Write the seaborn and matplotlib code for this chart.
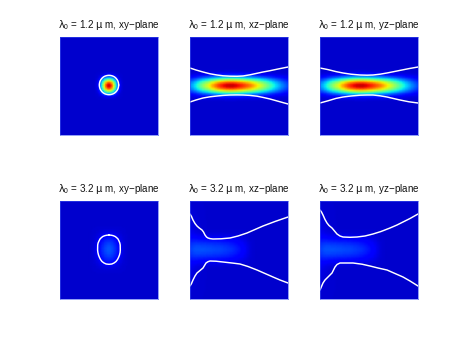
import numpy as np
import matplotlib
matplotlib.use("Agg")
import matplotlib.pyplot as plt
import seaborn as sns

sns.set_style("white")
plt.rcParams['font.family'] = ['Liberation Sans', 'DejaVu Sans']
plt.rcParams['mathtext.fontset'] = 'custom'
plt.rcParams['mathtext.rm'] = 'Liberation Sans'
plt.rcParams['mathtext.it'] = 'DejaVu Sans'

titles = [r"$\lambda_0$ = 1.2 $\mu$ m, xy−plane", r"$\lambda_0$ = 1.2 $\mu$ m, xz−plane", r"$\lambda_0$ = 1.2 $\mu$ m, yz−plane",
          r"$\lambda_0$ = 3.2 $\mu$ m, xy−plane", r"$\lambda_0$ = 3.2 $\mu$ m, xz−plane", r"$\lambda_0$ = 3.2 $\mu$ m, yz−plane"]

base_level = 0.07
amps = [0.87, 0.87, 0.87, 0.14, 0.13, 0.13]
edge_amps = [0, 0, 0, 0, 0.07, 0.07]


def mirror(half):
    """Profile read from centre outwards, mirrored about the centre; zero beyond."""
    pad = [0] * (33 - len(half))
    return pad + half[:0:-1] + half + pad


spot = mirror([1, .96, .85, .68, .49, .31, .16, .07, .025, .008])
beam_y = mirror([1, .97, .87, .72, .54, .37, .22, .12, .05, .02, .005])
beam_x = [.22, .245, .27, .305, .34, .38, .42, .46, .50, .535,
          .57, .60, .63, .675, .72, .755, .79, .825, .86, .89,
          .92, .94, .96, .975, .99, .995, 1, 1, 1, .99,
          .98, .965, .95, .935, .92, .90, .88, .86, .84, .82,
          .8, .77, .74, .71, .68, .65, .62, .59, .56, .53,
          .5, .47, .44, .41, .38, .35, .32, .295, .27, .245,
          .22, .20, .18, .16, .14]
low_xy_x = mirror([1, .98, .92, .83, .72, .6, .47, .35, .24, .15, .08, .04, .01])
low_xy_y = mirror([1, .99, .96, .91, .85, .77, .68, .58, .48, .38, .29, .2, .13, .07, .03, .01])
low_z_x = [.6, .68, .76, .83, .88, .92, .95, .97, .99, 1,
           1, 1, 1, .99, .99, .98, .97, .96, .95, .94,
           .93, .91, .89, .87, .85, .83, .8, .77, .74, .7,
           .66, .61, .56, .5, .44, .38, .31, .24, .17, .11,
           .06, .03, .01] + [0] * 22
low_z_y = mirror([1, .98, .93, .86, .77, .66, .54, .42, .3, .2, .12, .07, .03, .01])
edge_x = [.5, .45, .4, .34, .28, .22, .17, .12, .08, .05, .03, .01] + [0] * 53
edge_y = mirror([1, 1, .99, .98, .97, .95, .93, .91, .88, .85, .82, .79, .75, .71, .67, .63, .59,
                 .55, .5, .46, .42, .38, .34, .3, .26, .23, .2, .17, .14, .12, .1, .08, .06])

profiles_x = [spot, beam_x, beam_x, low_xy_x, low_z_x, low_z_x]
profiles_y = [spot, beam_y, beam_y, low_xy_y, low_z_y, low_z_y]

ring_u = [58.7, 58.5, 58, 57.1, 55.9, 54.5, 52.7, 50.9, 49, 47.1, 45.3, 43.5, 42.1, 40.9, 40, 39.5, 39.3,
          39.5, 40, 40.9, 42.1, 43.5, 45.3, 47.1, 49, 50.9, 52.7, 54.5, 55.9, 57.1, 58, 58.5, 58.7]
ring_v = [48, 49.9, 51.7, 53.4, 54.9, 56.1, 57, 57.5, 57.7, 57.5, 57, 56.1, 54.9, 53.4, 51.7, 49.9, 48,
          46.1, 44.3, 42.6, 41.1, 39.9, 39, 38.5, 38.3, 38.5, 39, 39.9, 41.1, 42.6, 44.3, 46.1, 48]
xz_top_u = [0, 6, 13, 20, 27, 33, 40, 47, 53, 60, 67, 73, 80, 89, 98]
xz_top_v = [31, 33, 35, 36.8, 38, 38.8, 39.2, 39.3, 39, 37.8, 36.3, 35, 33.7, 31.8, 30]
xz_bot_u = [0, 6, 13, 20, 27, 33, 40, 47, 53, 60, 67, 73, 80, 89, 98]
xz_bot_v = [65, 63, 61, 59.8, 59, 58.4, 58, 57.9, 58, 58.4, 59.2, 60.4, 62, 64.5, 67]
yz_top_u = [0, 8, 16, 23, 31, 40, 47, 53, 60, 67, 73, 80, 89, 98]
yz_top_v = [31, 32.6, 34.6, 36, 37.2, 38, 38.2, 38, 37.2, 36, 34.8, 33.4, 31.6, 30]
yz_bot_u = [0, 8, 16, 23, 31, 40, 47, 53, 60, 67, 73, 80, 89, 98]
yz_bot_v = [66, 63.8, 61.4, 60, 59, 58.2, 58, 58, 58.8, 60, 61.4, 63, 64.8, 66]
oval_u = [49, 51, 53, 55, 56.5, 58, 59, 59.8, 60.2, 60.3, 60.1, 59.5, 58.6, 57.5, 56, 54, 51.8, 49,
          46.2, 44, 42, 40.5, 39.4, 38.5, 37.9, 37.6, 37.7, 38.1, 39, 40, 41.5, 43, 45, 47, 49]
oval_v = [34, 34.2, 34.6, 35.4, 36.5, 38, 40, 42, 44, 49, 51.5, 54, 56.3, 58.5, 60.5, 62, 63, 63.3,
          63, 62, 60.5, 58.5, 56.3, 54, 51.5, 49, 44, 42, 40, 38, 36.5, 35.4, 34.6, 34.2, 34]
low_xz_top_u = [0, 1.5, 3, 5, 7, 9, 12, 13.5, 15, 16.5, 18, 20, 23, 31, 40, 48, 57, 65, 73, 85, 98]
low_xz_top_v = [13, 15.5, 19, 22.5, 25, 26.8, 29, 31, 34, 36, 37, 37.6, 38, 37.8, 37, 35, 32, 28.5, 25, 20.5, 16]
low_xz_bot_u = [0, 1.5, 3, 5, 7, 10, 13, 14.5, 16, 18, 20, 26, 33, 42, 50, 58, 67, 75, 83, 90, 98]
low_xz_bot_v = [85, 82.5, 79, 75, 72, 69.5, 67, 64.5, 62, 60.7, 60, 60.2, 61, 62, 63, 65.5, 69, 72.5, 76, 79, 82]
low_yz_top_u = [0, 1.5, 3, 5, 7, 9, 12, 14.5, 17, 20, 23, 30, 37, 45, 53, 61, 70, 77, 83, 90, 98]
low_yz_top_v = [9, 11, 14, 18.5, 22, 24.5, 27, 30, 33, 35, 36, 36.3, 36, 35, 33, 30.5, 27, 24, 21, 17.5, 13]
low_yz_bot_u = [0, 1.5, 3, 5, 7, 9, 12, 13.5, 15, 17, 20, 26, 33, 42, 50, 58, 67, 75, 83, 90, 98]
low_yz_bot_v = [89, 85.5, 82, 79, 77, 75, 72, 69, 66, 63.5, 62, 62, 62, 63.2, 65, 67, 69, 72.5, 76, 80, 85]

curves = [[(ring_u, ring_v)],
          [(xz_top_u, xz_top_v), (xz_bot_u, xz_bot_v)],
          [(yz_top_u, yz_top_v), (yz_bot_u, yz_bot_v)],
          [(oval_u, oval_v)],
          [(low_xz_top_u, low_xz_top_v), (low_xz_bot_u, low_xz_bot_v)],
          [(low_yz_top_u, low_yz_top_v), (low_yz_bot_u, low_yz_bot_v)]]

W, H = 463, 348
lefts = [60, 190, 320]
tops = [37, 201]
size = 98

fig = plt.figure(figsize=(W / 100, H / 100), dpi=100, facecolor="white")
for k in range(6):
    l, t = lefts[k % 3], tops[k // 3]
    ax = fig.add_axes([l / W, 1 - (t + size) / H, size / W, size / H])
    field = (base_level + amps[k] * np.outer(profiles_y[k], profiles_x[k])
             + edge_amps[k] * np.outer(edge_y, edge_x))
    sns.heatmap(field, ax=ax, cmap="jet", vmin=0, vmax=1, cbar=False,
                xticklabels=False, yticklabels=False, shading="gouraud")
    n = len(profiles_x[k]) - 1
    step = n / size
    for u, v in curves[k]:
        ax.plot(np.array(u) * step, np.array(v) * step, color="white", lw=1.05, solid_joinstyle="round")
    ax.set_xlim(0, n)
    ax.set_ylim(n, 0)
    for s in ax.spines.values():
        s.set_visible(True)
        s.set_color("#3f55f0")
        s.set_linewidth(0.4)
    ax.set_title(titles[k], fontsize=7.1, pad=6.5, color="#111111")

fig.savefig("out.png", dpi=100)
